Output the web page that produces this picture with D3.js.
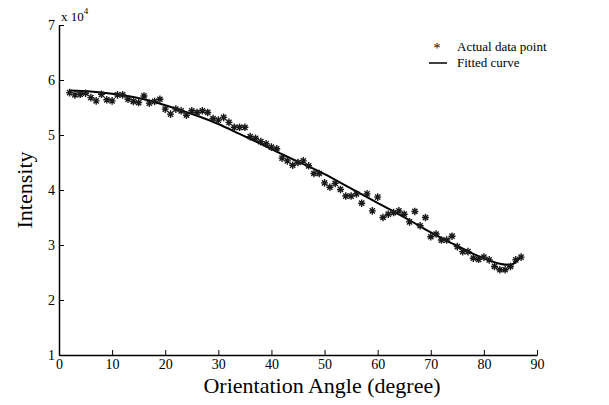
<!DOCTYPE html>
<html>
<head>
<meta charset="utf-8">
<script src="https://cdn.jsdelivr.net/npm/d3@7"></script>
<style>
  html, body { margin: 0; padding: 0; background: #fff; }
  svg { display: block; }
  text { font-family: "Liberation Serif", "DejaVu Serif", serif; fill: #000; }
</style>
</head>
<body>
<svg id="chart" width="609" height="405"></svg>
<script>
// ---- data (intensity in units of 10^4) ----
const angles = [2,3,4,5,6,7,8,9,10,11,12,13,14,15,16,17,18,19,20,21,22,23,24,25,26,27,28,29,30,31,32,33,34,35,36,37,38,39,40,41,42,43,44,45,46,47,48,49,50,51,52,53,54,55,56,57,58,59,60,61,62,63,64,65,66,67,68,69,70,71,72,73,74,75,76,77,78,79,80,81,82,83,84,85,86,87];
const intensity = [
  5.77,5.73,5.74,5.76,5.68,5.62,5.74,5.64,5.62,5.73,5.73,5.65,5.61,5.59,5.71,
  5.58,5.61,5.65,5.47,5.38,5.47,5.44,5.36,5.44,5.41,5.44,5.41,5.30,5.27,5.32,5.23,
  5.14,5.14,5.14,4.97,4.94,4.88,4.84,4.78,4.75,4.58,4.53,4.45,4.50,4.53,4.44,4.30,4.30,
  4.13,4.05,4.12,4.01,3.89,3.89,3.93,3.76,3.93,3.62,3.87,3.50,3.56,3.59,3.62,3.56,
  3.42,3.61,3.35,3.50,3.15,3.20,3.09,3.09,3.16,2.97,2.88,2.88,2.76,2.74,2.78,2.73,2.61,
  2.55,2.55,2.61,2.73,2.78
];
const fitAngles = [2,6,10,14,18,22,26,30,34,38,42,46,50,54,58,62,66,70,74,78,81,83,85,86,87];
const fitValues = [5.81,5.79,5.75,5.69,5.60,5.48,5.35,5.20,5.02,4.84,4.65,4.47,4.29,4.08,3.87,3.66,3.45,3.23,3.03,2.84,2.72,2.66,2.64,2.69,2.79];
const xTicks = [0,10,20,30,40,50,60,70,80,90];
const yTicks = [1,2,3,4,5,6,7];
const legendLabels = ["Actual data point", "Fitted curve"];

// ---- layout ----
const svg = d3.select("#chart");
const x = d3.scaleLinear().domain([0, 90]).range([59, 537]);
const y = d3.scaleLinear().domain([1, 7]).range([355, 25]);
const serif = '"Liberation Serif", "DejaVu Serif", serif';

// axes
const gx = svg.append("g").attr("transform", `translate(0,${y(1)})`)
  .call(d3.axisBottom(x).tickValues(xTicks).tickFormat(d3.format("d"))
    .tickSizeInner(-5).tickSizeOuter(0).tickPadding(4));
const gy = svg.append("g").attr("transform", `translate(${x(0)},0)`)
  .call(d3.axisLeft(y).tickValues(yTicks).tickFormat(d3.format("d"))
    .tickSizeInner(-5).tickSizeOuter(0).tickPadding(4));
[gx, gy].forEach(g => {
  g.attr("font-family", serif).attr("font-size", 14);
  g.selectAll("text").attr("fill", "#000").style("font-family", serif).style("font-size", "14px");
  g.select(".domain").attr("stroke", "#000").attr("stroke-width", 1.5);
  g.selectAll(".tick line").attr("stroke", "#000").attr("stroke-width", 1);
});

// exponent label
const expo = svg.append("text").attr("x", 61).attr("y", 21).style("font-size", "13px");
expo.append("tspan").text("x 10");
expo.append("tspan").attr("dy", -7).style("font-size", "9px").text("4");

// axis titles
svg.append("text").attr("x", 322).attr("y", 393)
  .attr("text-anchor", "middle").style("font-size", "22px").text("Orientation Angle (degree)");
svg.append("text").attr("transform", `translate(32,${y(4)}) rotate(-90)`)
  .attr("text-anchor", "middle").style("font-size", "22px").text("Intensity");

// fitted curve
const fit = fitAngles.map((a, i) => [a, fitValues[i]]);
svg.append("path").datum(fit)
  .attr("d", d3.line().x(d => x(d[0])).y(d => y(d[1])).curve(d3.curveNatural))
  .attr("fill", "none").attr("stroke", "#000").attr("stroke-width", 2);

// data points (asterisks)
const star = "M-3.5,0H3.5M0,-3.8V3.8M-2.6,-2.6L2.6,2.6M-2.6,2.6L2.6,-2.6";
svg.append("g").selectAll("path").data(angles.map((a, i) => [a, intensity[i]]))
  .join("path")
  .attr("transform", d => `translate(${x(d[0])},${y(d[1])})`)
  .attr("d", star).attr("fill", "none").attr("stroke", "#1a1a1a").attr("stroke-width", 1.4);

// legend
const lg = svg.append("g");
lg.append("text").attr("x", 437).attr("y", 53).attr("text-anchor", "middle").style("font-size", "14px").text("*");
lg.append("line").attr("x1", 429).attr("x2", 447).attr("y1", 63).attr("y2", 63).attr("stroke", "#000").attr("stroke-width", 1.5);
lg.selectAll("text.lab").data(legendLabels).join("text").attr("class", "lab")
  .attr("x", 457).attr("y", (d, i) => 51 + i * 16).style("font-size", "13px").text(d => d);
</script>
</body>
</html>
